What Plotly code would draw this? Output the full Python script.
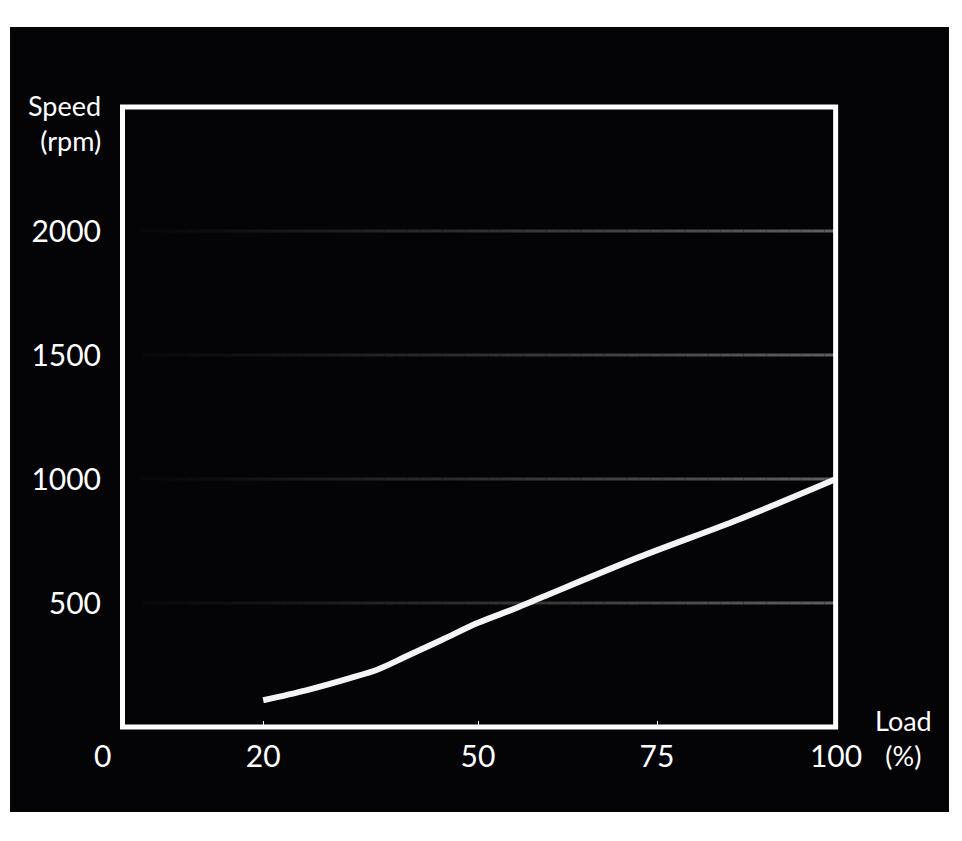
import plotly.graph_objects as go

# Data
load_pct = [20, 26, 32, 36, 40, 45, 50, 55, 59, 72.5, 86.5, 100]
speed_rpm = [108, 148, 196, 232, 285, 352, 420, 476, 524, 685, 838, 1000]

x_tick_vals = [20, 50, 75, 100]
x_tick_text = ["20", "50", "75", "100"]
y_tick_vals = [500, 1000, 1500, 2000]
y_tick_text = ["500", "1000", "1500", "2000"]

BG = "#040407"
FONT = "Lato"

fig = go.Figure()
fig.add_trace(go.Scatter(
    x=load_pct, y=speed_rpm, mode="lines",
    line=dict(color="#f4f4f4", width=6, shape="spline", smoothing=0.9),
    hoverinfo="skip", showlegend=False,
))

shapes = []
# outer black panel
shapes.append(dict(type="rect", xref="paper", yref="paper",
                   x0=-0.1536, x1=1.1578, y0=-0.137, y1=1.129,
                   fillcolor=BG, line=dict(width=0), layer="below"))

# fading gridlines (dark at left, grey at right)
N = 60
x_start, x_end = 3.0, 100.0
for yv in y_tick_vals:
    for i in range(N):
        t = (i + 0.5) / N
        c = int(8 + 88 * t ** 1.1)
        xa = x_start + (x_end - x_start) * i / N
        xb = x_start + (x_end - x_start) * (i + 1) / N
        shapes.append(dict(type="line", xref="x", yref="y",
                           x0=xa, x1=xb, y0=yv, y1=yv,
                           line=dict(color=f"rgb({c},{c},{c})", width=3),
                           layer="below"))

# white frame
shapes.append(dict(type="rect", xref="paper", yref="paper",
                   x0=0.0035, x1=0.9995, y0=0.0, y1=1.0,
                   line=dict(color="white", width=5), fillcolor="rgba(0,0,0,0)",
                   layer="above"))

annotations = [
    dict(text="Speed<br>(rpm)", xref="paper", yref="paper", x=-0.0237, y=0.975,
         xanchor="right", yanchor="middle", align="right", showarrow=False,
         font=dict(family=FONT, size=27, color="white")),
    dict(text="Load<br>(%)", xref="paper", yref="paper", x=1.0936, y=-0.018,
         xanchor="center", yanchor="middle", align="center", showarrow=False,
         font=dict(family=FONT, size=27, color="white")),
    dict(text="0", xref="paper", yref="paper", x=-0.0244, y=-0.045,
         xanchor="center", yanchor="middle", showarrow=False,
         font=dict(family=FONT, size=30, color="white")),
]

fig.update_layout(
    width=954, height=833,
    margin=dict(l=112, r=126, t=99, b=114),
    paper_bgcolor="white", plot_bgcolor=BG,
    shapes=shapes, annotations=annotations,
    showlegend=False,
    xaxis=dict(range=[0, 100], tickvals=x_tick_vals, ticktext=x_tick_text,
               ticks="inside", ticklen=6, tickwidth=1, tickcolor="white",
               showgrid=False, zeroline=False, showline=False,
               tickfont=dict(family=FONT, size=30, color="white"),
               ticklabelstandoff=9, fixedrange=True),
    yaxis=dict(range=[0, 2500], tickvals=y_tick_vals, ticktext=y_tick_text,
               ticks="", showgrid=False, zeroline=False, showline=False,
               tickfont=dict(family=FONT, size=30, color="white"),
               ticklabelstandoff=18, fixedrange=True),
)

fig.write_html("out.html")
